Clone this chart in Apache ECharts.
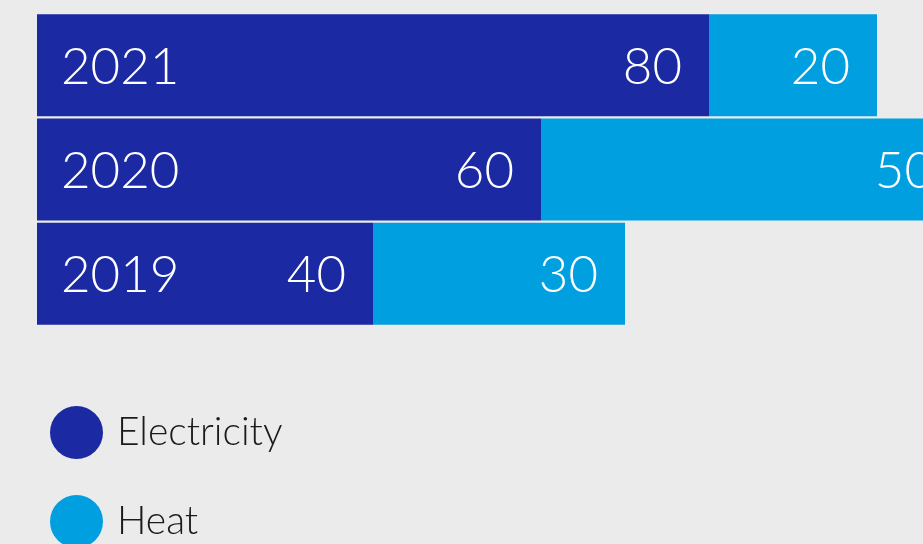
<!DOCTYPE html>
<html>
<head>
<meta charset="utf-8">
<script src="https://cdn.jsdelivr.net/npm/echarts@6/dist/echarts.min.js"></script>
<style>
html,body{margin:0;padding:0;background:#ebebeb;}
#c{width:923px;height:544px;}
</style>
</head>
<body>
<div id="c"></div>
<script>
const years = ['2019', '2020', '2021'];
const electricity = [40, 60, 80];
const heat = [30, 50, 20];
const seriesNames = ['Electricity', 'Heat'];

const FONT = 'Lato';
const chart = echarts.init(document.getElementById('c'), null, {renderer: 'canvas'});
const valueLabel = {
  show: true, position: 'insideRight', distance: 27, offset: [0, 2],
  color: '#ffffff', fontFamily: FONT, fontWeight: 300, fontSize: 51
};
chart.setOption({
  backgroundColor: '#ebebeb',
  animation: false,
  grid: {left: 37, top: 13, width: 840, height: 313},
  xAxis: {type: 'value', min: 0, max: 100, show: false},
  yAxis: {type: 'category', data: years, show: false},
  legend: {
    data: seriesNames, orient: 'vertical', left: 50, top: 406, height: 250, padding: 0,
    icon: 'circle', itemWidth: 53, itemHeight: 53, itemGap: 36,
    textStyle: {fontFamily: FONT, fontWeight: 300, fontSize: 39, color: '#1a1a1a', padding: [0, 0, 0, 9]}
  },
  series: [
    {name: seriesNames[0], type: 'bar', stack: 'total', data: electricity, barWidth: 102,
     clip: false, itemStyle: {color: '#1b29a3'}, label: valueLabel},
    {name: seriesNames[1], type: 'bar', stack: 'total', data: heat, barWidth: 102,
     clip: false, itemStyle: {color: '#009fe0'}, label: valueLabel},
    {name: 'years', type: 'bar', data: electricity, barWidth: 102, barGap: '-100%', z: 5,
     itemStyle: {color: 'rgba(0,0,0,0)'}, silent: true,
     label: {show: true, position: 'insideLeft', distance: 24, offset: [0, 2], formatter: '{b}',
             color: '#ffffff', fontFamily: FONT, fontWeight: 300, fontSize: 51}}
  ]
});
</script>
</body>
</html>
